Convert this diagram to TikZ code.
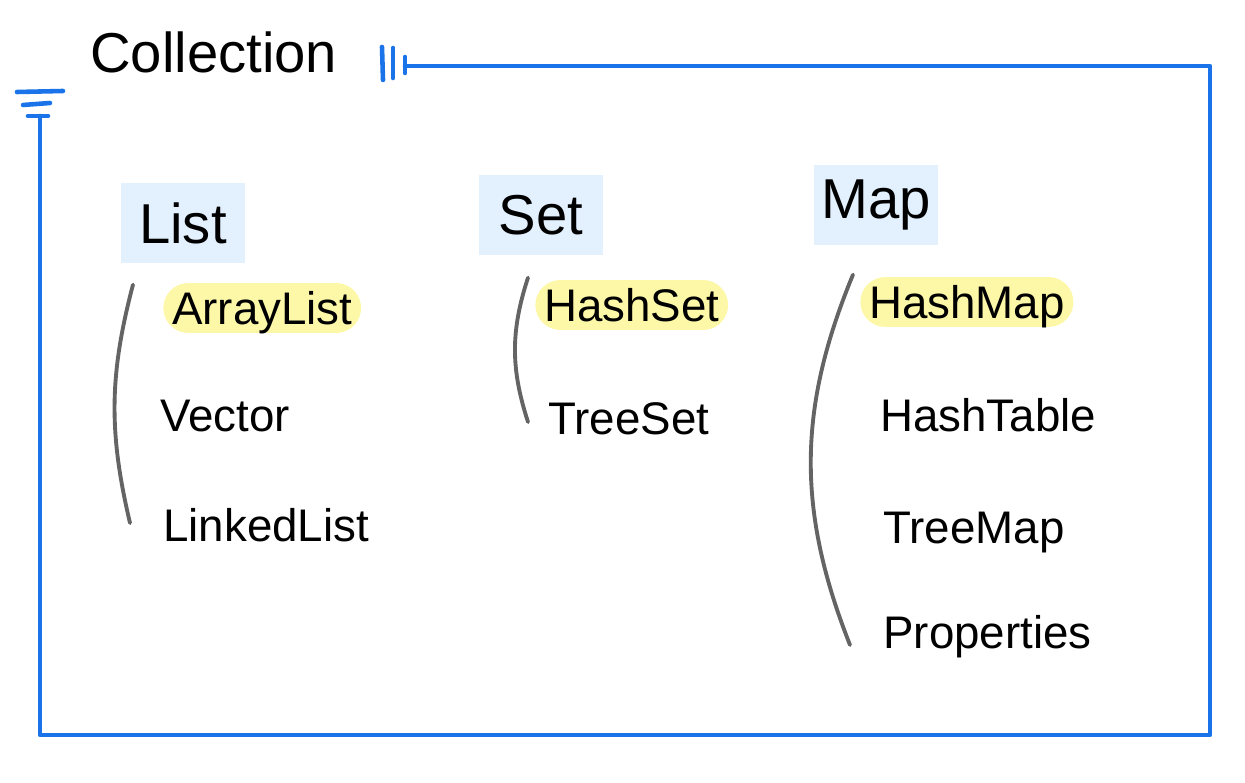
\documentclass[tikz,border=0pt]{standalone}
\usepackage{fontspec}
\setmainfont{Liberation Sans}
\usetikzlibrary{calc}
\definecolor{frameblue}{RGB}{26,115,232}
\definecolor{headfill}{RGB}{227,240,253}
\definecolor{markyellow}{RGB}{253,248,168}
\definecolor{bracketgray}{RGB}{100,100,100}

\begin{document}
\begin{tikzpicture}[x=0.02cm, y=-0.02cm, line cap=round, line join=round,
	frame/.style={draw=frameblue, line width=2.6pt},
	bracket/.style={draw=bracketgray, line width=2.2pt},
	header/.style={fill=headfill, minimum width=2.5cm, minimum height=1.6cm, font=\fontsize{32}{36}\selectfont},
	item/.style={anchor=west, inner xsep=0pt, inner ysep=0pt, text height=19pt, text depth=0pt, font=\fontsize{26}{30}\selectfont},
	marked/.style={item, fill=markyellow, rounded corners=0.5cm, inner xsep=5pt, minimum height=1cm}]
	% Page window
	\useasboundingbox (0,0) rectangle (1245,783);
	
	% Outer frame of the collection
	\draw[frame] (405,66) -- (1210,66) -- (1210,735) -- (40,735) -- (40,116);
	% Strokes at the two open ends
	\draw[frame] (17,92) -- (63,91);
	\draw[frame] (23,105) -- (50,103);
	\draw[frame] (28,116) -- (48,116);
	\draw[frame] (382,47) -- (383,80);
	\draw[frame] (393,48) -- (393,78);
	\draw[frame] (405,57) -- (405,73);
	
	% Title
	\node[anchor=west, inner sep=0pt, font=\fontsize{32}{36}\selectfont] (collection) at (90,52) {Collection};
	
	% Interface headers
	\node[header] (list) at (183,223) {List};
	\node[header] (set) at (541,215) {Set};
	\node[header] (map) at (876,205) {Map};
	
	% List implementations
	\node[marked] (arraylist) at (163,308) {ArrayList};
	\node[item] (vector) at (160,415) {Vector};
	\node[item] (linkedlist) at (163,525) {LinkedList};
	
	% Set implementations
	\node[marked] (hashset) at (535,305) {HashSet};
	\node[item] (treeset) at (548,418) {TreeSet};
	
	% Map implementations
	\node[marked] (hashmap) at (860,302) {HashMap};
	\node[item] (hashtable) at (880,415) {HashTable};
	\node[item] (treemap) at (883,527) {TreeMap};
	\node[item] (properties) at (883,632) {Properties};
	
	% Brackets grouping each family
	\draw[bracket] ($(arraylist.north west)+(-30,2)$) to[bend right=14] ($(linkedlist.west)+(-33,-2)$);
	\draw[bracket] ($(hashset.north west)+(-7,-2)$) to[bend right=18] ($(treeset.west)+(-20,4)$);
	\draw[bracket] ($(hashmap.north west)+(-7,-2)$) to[bend right=22] ($(properties.west)+(-33,13)$);
	
\end{tikzpicture}
\end{document}
